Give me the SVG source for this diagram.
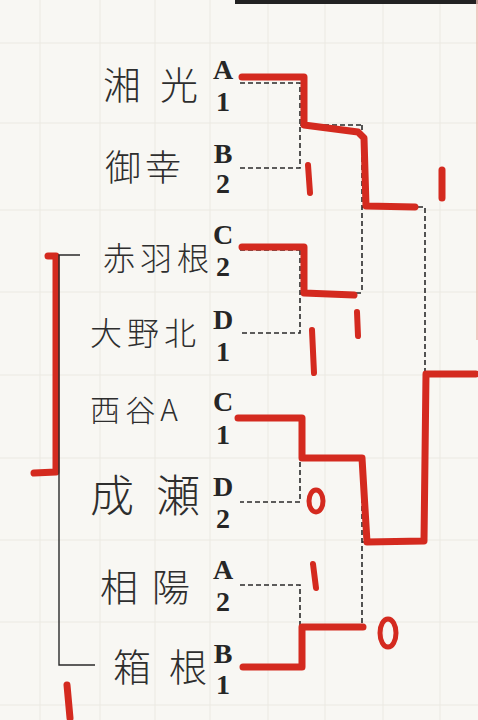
<svg xmlns="http://www.w3.org/2000/svg" width="478" height="720" viewBox="0 0 478 720">
<style>
.paper{fill:#f8f7f3}
.grid{stroke:#ebe9e2;stroke-width:1;fill:none}
.name{font-family:"Noto Sans CJK JP","Noto Sans CJK SC",sans-serif;fill:#2e2e2e;font-weight:300}
.seed{font-family:"Liberation Serif",serif;font-weight:bold;font-size:28px;fill:#262626;text-anchor:middle}
.dash{fill:none;stroke:#2a2a2a;stroke-width:1.6;stroke-dasharray:5 3}
.red{fill:none;stroke:#d42a1f;stroke-width:7;stroke-linejoin:round;stroke-linecap:round}
.thin{fill:none;stroke:#2a2a2a;stroke-width:1.4}
</style>
<rect class="paper" x="0" y="0" width="478" height="720"/>
<g id="background">
<path class="grid" d="M40 0V720M100 0V720M155 0V720M210 0V720M268 0V720M325 0V720M383 0V720M440 0V720M0 43H478M0 123H478M0 210H478M0 292H478M0 375H478M0 458H478M0 540H478M0 622H478M0 705H478"/>
<rect x="235" y="0" width="243" height="4" fill="#222"/>
<line x1="477" y1="0" x2="477" y2="340" stroke="#efb8b0" stroke-width="1.5"/>
</g>
<g id="connectors">
<path class="dash" d="M240 83H300V168H240M300 125H362M362 125V293M300 250V333H240M240 250H300M300 293H362M362 207H425V542M425 374H478"/>
<path class="dash" d="M240 418H300V502H240M300 458H362M362 458V627M362 542H425M240 585H300V667H243M300 627H363"/>
<polyline class="red" points="242,77 304,77 304,125 358,132 364,138 366,206 415,207"/>
<polyline class="red" points="242,247 304,247 304,293 354,295"/>
<polyline class="red" points="238,418 302,418 302,458 362,458 367,542 424,541 426,374 476,374"/>
<polyline class="red" points="243,667 302,667 302,627 363,627"/>
<polyline class="red" points="48,256 56,256 56,472 34,473"/>
<polyline class="thin" points="80,255 59,255 59,665 95,665"/>
</g>
<g id="scores" fill="none" stroke="#d42a1f" stroke-linecap="round">
<line x1="308" y1="165" x2="310" y2="193" stroke-width="6"/>
<line x1="442" y1="170" x2="442" y2="198" stroke-width="7"/>
<line x1="357" y1="312" x2="358" y2="336" stroke-width="6"/>
<line x1="312" y1="330" x2="314" y2="373" stroke-width="6"/>
<ellipse cx="316" cy="501" rx="7" ry="11" stroke-width="5"/>
<line x1="313" y1="564" x2="316" y2="588" stroke-width="6"/>
<ellipse cx="388" cy="633" rx="8" ry="14" stroke-width="5"/>
<line x1="67" y1="685" x2="70" y2="718" stroke-width="7"/>
</g>
<g id="t1"><text class="name" x="103" y="99" font-size="38" textLength="95" lengthAdjust="spacing">湘光</text><text class="seed" x="223" y="79">A</text><text class="seed" x="223" y="111">1</text></g>
<g id="t2"><text class="name" x="105" y="181" font-size="36" textLength="76" lengthAdjust="spacing">御幸</text><text class="seed" x="223" y="163">B</text><text class="seed" x="223" y="193">2</text></g>
<g id="t3"><text class="name" x="103" y="270" font-size="32" textLength="106" lengthAdjust="spacing">赤羽根</text><text class="seed" x="223" y="244">C</text><text class="seed" x="223" y="276">2</text></g>
<g id="t4"><text class="name" x="90" y="345" font-size="32" textLength="106" lengthAdjust="spacing">大野北</text><text class="seed" x="223" y="329">D</text><text class="seed" x="223" y="361">1</text></g>
<g id="t5"><text class="name" x="90" y="421" font-size="30" textLength="88" lengthAdjust="spacing">西谷A</text><text class="seed" x="223" y="411">C</text><text class="seed" x="223" y="444">1</text></g>
<g id="t6"><text class="name" x="90" y="512" font-size="44" textLength="110" lengthAdjust="spacing">成瀬</text><text class="seed" x="223" y="496">D</text><text class="seed" x="223" y="528">2</text></g>
<g id="t7"><text class="name" x="100" y="601" font-size="38" textLength="90" lengthAdjust="spacing">相陽</text><text class="seed" x="223" y="579">A</text><text class="seed" x="223" y="611">2</text></g>
<g id="t8"><text class="name" x="113" y="681" font-size="38" textLength="94" lengthAdjust="spacing">箱根</text><text class="seed" x="223" y="663">B</text><text class="seed" x="223" y="694">1</text></g>
</svg>
